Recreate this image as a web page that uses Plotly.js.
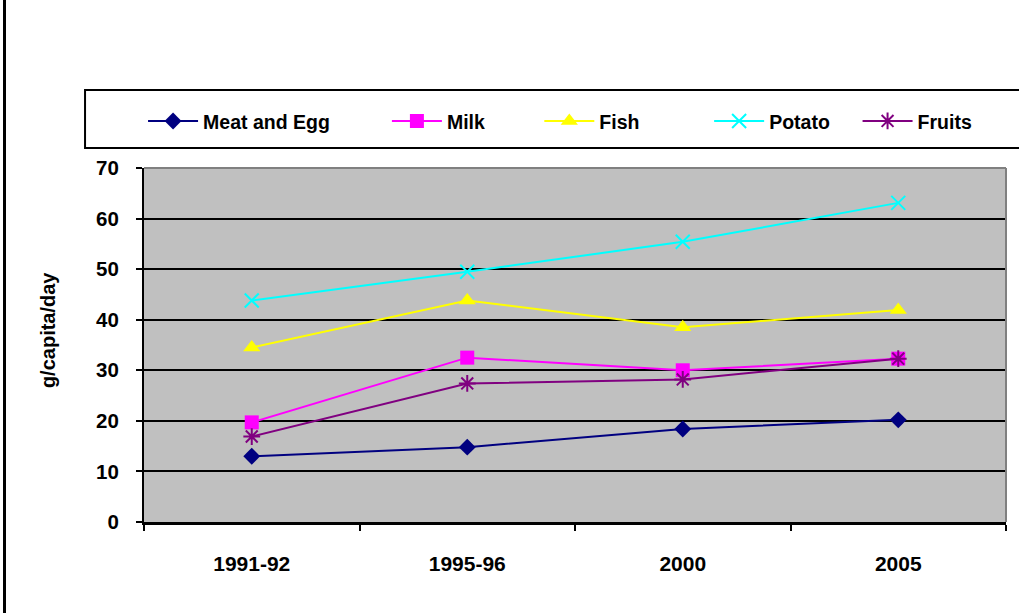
<!DOCTYPE html>
<html>
<head>
<meta charset="utf-8">
<script src="https://cdn.plot.ly/plotly-3.0.1.min.js"></script>
<style>
  html, body { margin: 0; padding: 0; background: #fff; }
  #frame { position: relative; width: 1019px; height: 613px; overflow: hidden; }
  #edge { position: absolute; left: 3px; top: 0; width: 3px; height: 613px; background: #000; z-index: 2; }
  #chart { width: 1019px; height: 613px; }
</style>
</head>
<body>
<div id="frame">
  <div id="edge"></div>
  <div id="chart"></div>
</div>
<script>
// Per-capita consumption (g/capita/day) by survey period
const periods = ['1991-92', '1995-96', '2000', '2005'];
const meatAndEgg = [13.0, 14.8, 18.4, 20.2];
const milk       = [19.7, 32.5, 30.0, 32.3];
const fish       = [34.5, 43.8, 38.5, 41.9];
const potato     = [43.8, 49.5, 55.4, 63.1];
const fruits     = [16.9, 27.4, 28.2, 32.3];
const yTitle = 'g/capita/day';

const FONT = 'Liberation Sans, Arial, sans-serif';

function series(name, values, color, symbol, size, legendId, open) {
  return {
    type: 'scatter',
    mode: 'lines+markers',
    name: name,
    x: periods,
    y: values,
    legend: legendId,
    line: { color: color, width: 2 },
    marker: {
      color: color,
      symbol: symbol,
      size: size,
      line: { color: color, width: open ? 2 : 0 }
    },
    hoverinfo: 'x+y+name'
  };
}

const traces = [
  series('Meat and Egg', meatAndEgg, '#000080', 'diamond', 13, 'legend', false),
  series('Milk', milk, '#FF00FF', 'square', 14, 'legend2', false),
  series('Fish', fish, '#FFFF00', 'triangle-up', 15, 'legend3', false),
  series('Potato', potato, '#00FFFF', 'x-thin-open', 14, 'legend4', true),
  series('Fruits', fruits, '#800080', 'asterisk-open', 14, 'legend5', true)
];

// One legend group per series so each entry sits at its own slot in the key strip
const legendX = [-0.0011, 0.2818, 0.4586, 0.6556, 0.8278];
function legendAt(x) {
  return {
    x: x, xanchor: 'left',
    y: 1.132, yanchor: 'middle',
    orientation: 'h',
    bgcolor: 'rgba(0,0,0,0)',
    borderwidth: 0,
    itemwidth: 50,
    font: { family: FONT, size: 19.5, color: '#000', weight: 'bold' }
  };
}

const layout = {
  width: 1019,
  height: 613,
  margin: { l: 144, r: 13, t: 168, b: 91 },
  paper_bgcolor: 'rgba(0,0,0,0)',
  plot_bgcolor: '#C0C0C0',
  showlegend: true,
  legend: legendAt(legendX[0]),
  legend2: legendAt(legendX[1]),
  legend3: legendAt(legendX[2]),
  legend4: legendAt(legendX[3]),
  legend5: legendAt(legendX[4]),
  font: { family: FONT, color: '#000' },
  xaxis: {
    type: 'category',
    range: [-0.5, 3.5],
    tickson: 'boundaries',
    ticks: 'outside',
    ticklen: 6,
    tickwidth: 2,
    tickcolor: '#000',
    ticklabelstandoff: 21,
    showgrid: false,
    showline: true,
    linecolor: '#000',
    linewidth: 3,
    zeroline: false,
    tickfont: { family: FONT, size: 21, color: '#000', weight: 'bold' },
    fixedrange: true
  },
  yaxis: {
    range: [0, 70],
    dtick: 10,
    tick0: 0,
    ticks: 'outside',
    ticklen: 6,
    tickwidth: 2,
    tickcolor: '#000',
    ticklabelstandoff: 13,
    showgrid: true,
    gridcolor: '#000',
    gridwidth: 2,
    showline: true,
    linecolor: '#000',
    linewidth: 2,
    zeroline: false,
    tickfont: { family: FONT, size: 20.5, color: '#000', weight: 'bold' },
    fixedrange: true
  },
  annotations: [
    { text: yTitle, xref: 'paper', yref: 'paper', x: -0.1114, y: 0.542,
      xanchor: 'center', yanchor: 'middle', textangle: -90, showarrow: false,
      font: { family: FONT, size: 20, color: '#000', weight: 'bold' } }
  ],
  shapes: [
    // key strip frame
    { type: 'rect', xref: 'paper', yref: 'paper',
      x0: -0.0684, x1: 1.03, y0: 1.0565, y1: 1.2203,
      line: { color: '#000', width: 2 }, fillcolor: 'rgba(0,0,0,0)', layer: 'below' },
    // plot area top and right edges
    { type: 'line', xref: 'paper', yref: 'paper', x0: 0, x1: 1, y0: 1, y1: 1,
      line: { color: '#808080', width: 2 } },
    { type: 'line', xref: 'paper', yref: 'paper', x0: 1, x1: 1, y0: 0, y1: 1,
      line: { color: '#808080', width: 2 } }
  ]
};

Plotly.newPlot('chart', traces, layout, { displayModeBar: false, staticPlot: true });
</script>
</body>
</html>
